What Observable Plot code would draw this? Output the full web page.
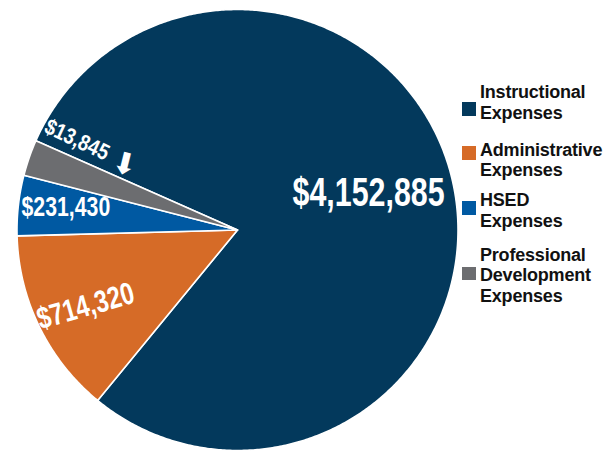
<!DOCTYPE html>
<html><head><meta charset="utf-8">
<script src="https://cdn.jsdelivr.net/npm/d3@7"></script>
<script src="https://cdn.jsdelivr.net/npm/@observablehq/plot@0.6"></script>
<style>
html,body{margin:0;padding:0;background:#fff;}
#chart{position:relative;width:606px;height:451px;overflow:hidden;}
#chart svg{position:absolute;left:0;top:0;}
.legend-item{position:absolute;left:462px;font-family:"Liberation Sans",Arial,sans-serif;font-weight:bold;font-size:18px;line-height:20.5px;color:#111;letter-spacing:-0.2px;}
.legend-item .sw{position:absolute;left:0;width:13.5px;height:13.5px;}
.legend-item .tx{position:absolute;left:18px;top:0;white-space:nowrap;}
</style></head><body><div id="chart"></div>
<script>
// ---- data ----
const categories = ["Instructional Expenses", "Administrative Expenses", "HSED Expenses", "Professional Development Expenses"];
const legendLines = [["Instructional", "Expenses"], ["Administrative", "Expenses"], ["HSED", "Expenses"], ["Professional", "Development", "Expenses"]];
const sliceValues = [4152885, 714320, 231430, 138450];
const valueLabels = ["$4,152,885", "$714,320", "$231,430", "$13,845"];
const colors = ["#03395c", "#d66b27", "#0059a2", "#6c6d70"];

// ---- layout ----
const W = 606, H = 451, cx = 237, cy = 229.5, R = 220.5;
const startDeg = -66.1;
const rad = Math.PI / 180;
const labelLayout = [
  {r: 0.617, dA: -2.2, rot: 0, size: 40, k: 0.76},
  {r: 0.771, dA: -0.6, rot: -16, size: 31, k: 0.77},
  {r: 0.785, dA: 1.1, rot: 0, size: 28, k: 0.76},
  {r: 0.835, dA: 10.2, rot: 25, size: 22.5, k: 0.84}
];

const arcs = d3.pie().sort(null).startAngle(startDeg * rad).endAngle(startDeg * rad + 2 * Math.PI)(sliceValues);
const poly = [];
arcs.forEach((a, i) => {
  const cat = categories[i];
  const n = Math.max(6, Math.ceil((a.endAngle - a.startAngle) / (0.5 * rad)));
  poly.push({cat, x: 0, y: 0});
  for (let k = 0; k <= n; k++) {
    const t = a.startAngle + (a.endAngle - a.startAngle) * k / n;
    poly.push({cat, x: Math.sin(t), y: Math.cos(t)});
  }
  poly.push({cat, x: 0, y: 0});
});

const labels = arcs.map((a, i) => {
  const L = labelLayout[i];
  const t = (a.startAngle + a.endAngle) / 2 + L.dA * rad;
  return {text: valueLabels[i], x: L.r * Math.sin(t), y: L.r * Math.cos(t), rot: L.rot, size: L.size};
});
// arrow pointing at the small slice
const pd = arcs[3];
const tA = (pd.startAngle + pd.endAngle) / 2 + 11 * rad;
const arrow = [{x: 0.592 * Math.sin(tA), y: 0.592 * Math.cos(tA)}];

const svg = Plot.plot({
  width: W, height: H, margin: 0,
  style: {background: "transparent"},
  x: {domain: [-1, 1], range: [cx - R, cx + R], axis: null},
  y: {domain: [-1, 1], range: [cy + R, cy - R], axis: null},
  color: {domain: categories, range: colors},
  marks: [
    Plot.line(poly, {x: "x", y: "y", z: "cat", fill: "cat", stroke: "white", strokeWidth: 1.6, strokeLinejoin: "round"}),
    Plot.text(labels, {x: "x", y: "y", text: "text", rotate: "rot", fontSize: "size", fill: "white",
      fontWeight: "bold", fontFamily: "Liberation Sans, Arial, sans-serif", textAnchor: "middle", lineAnchor: "middle"}),
    Plot.text(arrow, {x: "x", y: "y", text: () => "\u2B07", rotate: 14, fontSize: 30, fill: "white",
      fontFamily: "DejaVu Sans, sans-serif", textAnchor: "middle", lineAnchor: "middle"})
  ]
});
const chart = document.getElementById("chart");
chart.appendChild(svg);
// condense the value labels (narrow bold face)
const textGroups = svg.querySelectorAll('g[aria-label="text"]');
if (textGroups.length) {
  textGroups[0].querySelectorAll("text").forEach((t, i) => {
    const tr = t.getAttribute("transform") || "";
    t.setAttribute("transform", tr + ` scale(${labelLayout[i].k},1)`);
  });
}

// ---- legend ----
const legendTops = [82.2, 139.8, 190.2, 244.5];
const swatchTops = [102.3, 146.3, 201, 266.7];
categories.forEach((c, i) => {
  const item = document.createElement("div");
  item.className = "legend-item";
  item.style.top = "0px";
  const sw = document.createElement("div");
  sw.className = "sw";
  sw.style.background = colors[i];
  sw.style.top = swatchTops[i] + "px";
  const tx = document.createElement("div");
  tx.className = "tx";
  tx.style.top = legendTops[i] + "px";
  tx.innerHTML = legendLines[i].join("<br>");
  item.appendChild(sw);
  item.appendChild(tx);
  chart.appendChild(item);
});
</script></body></html>
